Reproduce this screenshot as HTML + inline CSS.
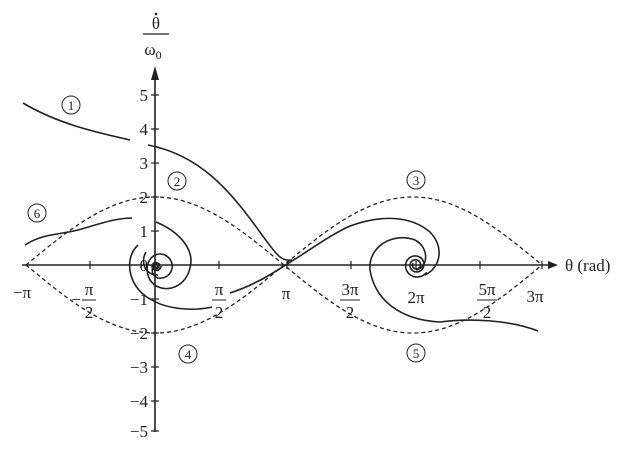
<!DOCTYPE html>
<html><head><meta charset="utf-8"><style>
html,body{margin:0;padding:0;background:#fff}
svg{display:block}
text{font-family:"Liberation Serif",serif;fill:#222}
</style></head><body>
<svg id="s" width="630" height="449" viewBox="0 0 630 449" xmlns="http://www.w3.org/2000/svg">
<g stroke="#222" stroke-width="1.6" fill="none">
<line x1="22" y1="265" x2="550" y2="265"/>
<line x1="155" y1="432" x2="155" y2="74"/>
</g>
<polygon points="548,261 558,265 548,269" fill="#222"/>
<polygon points="151,80 155,66 159,80" fill="#222"/>
<g stroke="#222" stroke-width="1.2">
<line x1="90" y1="261" x2="90" y2="269"/><line x1="219" y1="261" x2="219" y2="269"/>
<line x1="287" y1="261" x2="287" y2="269"/><line x1="351" y1="261" x2="351" y2="269"/>
<line x1="416" y1="261" x2="416" y2="269"/><line x1="480" y1="261" x2="480" y2="269"/>
<line x1="542" y1="261" x2="542" y2="269"/>
<line x1="151" y1="95" x2="159" y2="95"/><line x1="151" y1="129" x2="159" y2="129"/>
<line x1="151" y1="163" x2="159" y2="163"/><line x1="151" y1="197" x2="159" y2="197"/>
<line x1="151" y1="231" x2="159" y2="231"/><line x1="151" y1="299" x2="159" y2="299"/>
<line x1="151" y1="333" x2="159" y2="333"/><line x1="151" y1="367" x2="159" y2="367"/>
<line x1="151" y1="401" x2="159" y2="401"/><line x1="151" y1="431" x2="159" y2="431"/>
</g>
<g id="curves" stroke="#222" stroke-width="1.6" fill="none"></g>
<g font-size="17" text-anchor="end">
<text x="148" y="101">5</text><text x="148" y="135">4</text><text x="148" y="169">3</text>
<text x="148" y="203">2</text><text x="148" y="237">1</text><text x="148" y="271">0</text>
<text x="148" y="305">−1</text><text x="148" y="339">−2</text><text x="148" y="373">−3</text>
<text x="148" y="407">−4</text><text x="148" y="437">−5</text>
</g>
<g font-size="17" text-anchor="middle">
<text x="22" y="298">−π</text>
<text x="76" y="305">−</text><text x="89" y="295">π</text><line x1="82" y1="300" x2="96" y2="300" stroke="#222"/><text x="89" y="318">2</text>
<text x="219" y="295">π</text><line x1="212" y1="300" x2="226" y2="300" stroke="#222"/><text x="219" y="318">2</text>
<text x="286" y="299">π</text>
<text x="350" y="295">3π</text><line x1="340" y1="300" x2="360" y2="300" stroke="#222"/><text x="350" y="318">2</text>
<text x="416" y="303">2π</text>
<text x="487" y="295">5π</text><line x1="477" y1="300" x2="497" y2="300" stroke="#222"/><text x="487" y="318">2</text>
<text x="535" y="302">3π</text>
<text x="156" y="29">θ</text><circle cx="156" cy="14" r="1.3" fill="#222"/>
<line x1="143" y1="34" x2="169" y2="34" stroke="#222" stroke-width="1.2"/>
<text x="153" y="55">ω<tspan font-size="12" dy="4">0</tspan></text>
</g>
<text x="565" y="271" font-size="17">θ (rad)</text>
<g font-size="13" text-anchor="middle" stroke-width="1">
<circle cx="71" cy="105" r="9" fill="none" stroke="#222"/><text x="71" y="110">1</text>
<circle cx="177" cy="181" r="9" fill="none" stroke="#222"/><text x="177" y="186">2</text>
<circle cx="37" cy="213" r="9" fill="none" stroke="#222"/><text x="37" y="218">6</text>
<circle cx="188" cy="354" r="9" fill="none" stroke="#222"/><text x="188" y="359">4</text>
<circle cx="416" cy="180" r="9" fill="none" stroke="#222"/><text x="416" y="185">3</text>
<circle cx="416" cy="353" r="9" fill="none" stroke="#222"/><text x="416" y="358">5</text>
</g>
</svg>
<script>
var g=document.getElementById('curves');
function add(d,dash){var p=document.createElementNS('http://www.w3.org/2000/svg','path');p.setAttribute('d',d);if(dash)p.setAttribute('stroke-dasharray','4 3');p.setAttribute('stroke-width',dash?'1.3':'1.6');g.appendChild(p);}
function X(t){return 155+t/Math.PI*129;}
var up='',dn='';
for(var i=0;i<=200;i++){var t=-Math.PI+i*4*Math.PI/200;var v=Math.abs(2*Math.cos(t/2))*34;up+=(i?'L':'M')+X(t).toFixed(1)+','+(265-v).toFixed(1);dn+=(i?'L':'M')+X(t).toFixed(1)+','+(265+v).toFixed(1);}
add(up,1);add(dn,1);
function spiral(cx,cy,r0,a0,turns,k,sx){var d='';var n=300;for(var i=0;i<=n;i++){var f=i/n;var a=a0+f*turns*2*Math.PI;var r=r0*Math.exp(-k*f*turns);d+=(i?'L':'M')+(cx+sx*r*Math.cos(a)).toFixed(1)+','+(cy+r*Math.sin(a)).toFixed(1);}return d;}
add('M23,103 C60,125 100,133 130,140');
add('M148,145 C200,155 230,190 262,235 C275,252 280,262 292,260');
add('M230,293 C255,285 275,272 292,261 C310,250 330,235 350,226 C380,215 410,215 430,232 C445,248 440,268 425,275');
add(spiral(416,265,13,0.6,2.5,0.55,1));
add('M538,331 C510,320 470,318 440,322 C400,320 375,300 370,270 C368,245 395,232 415,240 C430,248 428,268 416,270');
add('M25,245 C45,232 65,235 85,228 C105,222 118,218 132,218');
add('M156,222 C180,232 195,250 190,268 C185,290 160,295 150,280 C142,265 152,250 165,255 C178,262 172,280 158,278 C150,276 150,262 160,264');
add(spiral(156,266,5,0,2.5,0.5,1));
add('M212,307 C190,312 165,308 152,300 C130,290 122,260 138,245');
add('M146,252 C140,262 145,275 158,275');
</script>
</body></html>
